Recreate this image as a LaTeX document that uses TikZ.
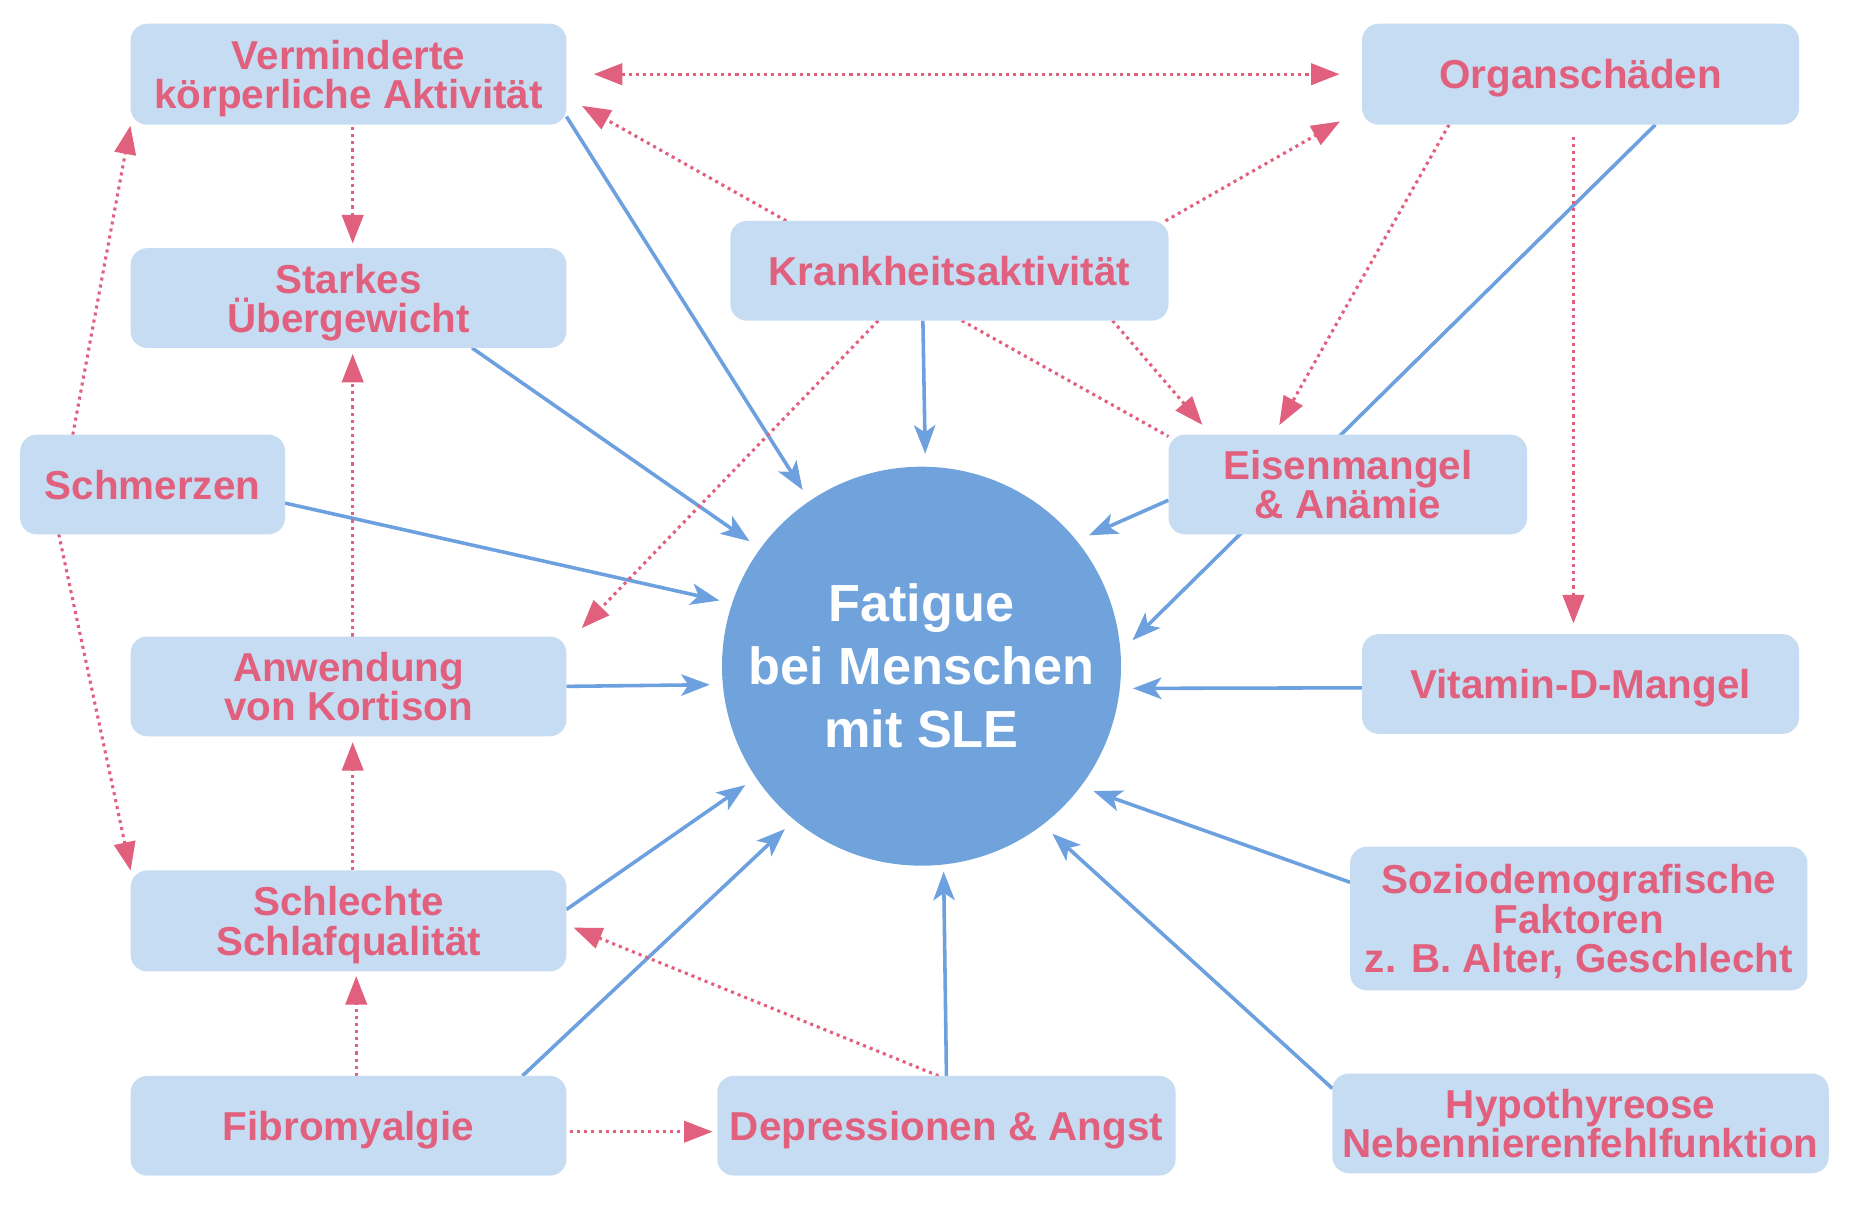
\documentclass[tikz,border=0pt]{standalone}
\usepackage{fontspec}
\setmainfont{Liberation Sans}
\usetikzlibrary{arrows.meta,backgrounds,calc}
\definecolor{pinkc}{RGB}{224,96,126}
\definecolor{boxc}{RGB}{198,220,242}
\definecolor{circc}{RGB}{112,163,220}
\definecolor{bluec}{RGB}{108,160,222}
\tikzset{
 boxnode/.style={rectangle, rounded corners=7pt, fill=boxc, text=pinkc,
   font=\bfseries\fontsize{17}{16.5}\selectfont, align=center, inner sep=2pt, outer sep=0pt, text depth=0pt},
 bluearrow/.style={draw=bluec, line width=1.5pt, -{Stealth[length=12pt,width=9pt,inset=3pt]}},
 pinkline/.style={draw=pinkc, line width=1.3pt, dash pattern=on 1.3pt off 1.7pt},
 pinkarrow/.style={pinkline, -{Triangle[length=12pt,width=9pt]}},
 pinkboth/.style={pinkline, {Triangle[length=12pt,width=9pt]}-{Triangle[length=12pt,width=9pt]}},
}
\begin{document}
\begin{tikzpicture}[x=0.5pt,y=-0.5pt]
\useasboundingbox (0,0) rectangle (1568,1037);
\node[boxnode, minimum width=183.5pt, minimum height=42.5pt] (verm) at (293.5,62.5) {Verminderte\\körperliche Aktivität};
\node[boxnode, minimum width=184pt, minimum height=42.5pt] (organ) at (1331,62.5) {Organschäden};
\node[boxnode, minimum width=183.5pt, minimum height=42pt] (stark) at (293.5,251) {Starkes\\Übergewicht};
\node[boxnode, minimum width=184.5pt, minimum height=42pt] (krank) at (799.5,228) {Krankheitsaktivität};
\node[boxnode, minimum width=111.5pt, minimum height=42pt] (schm) at (128.5,408) {Schmerzen};
\node[boxnode, minimum width=151pt, minimum height=42pt] (eisen) at (1135,408) {Eisenmangel\\\& Anämie};
\node[boxnode, minimum width=183.5pt, minimum height=42pt] (kort) at (293.5,578) {Anwendung\\von Kortison};
\node[boxnode, minimum width=184pt, minimum height=42pt] (vitd) at (1331,576) {Vitamin-D-Mangel};
\node[boxnode, minimum width=183.5pt, minimum height=42.5pt] (schlaf) at (293.5,775.5) {Schlechte\\Schlafqualität};
\node[boxnode, minimum width=192.5pt, minimum height=60.5pt] (sozio) at (1329.5,773.5) {Soziodemografische\\Faktoren\\z. B. Alter, Geschlecht};
\node[boxnode, minimum width=183.5pt, minimum height=42pt] (fibro) at (293.5,948) {Fibromyalgie};
\node[boxnode, minimum width=193pt, minimum height=42pt] (depr) at (797,948) {Depressionen \& Angst};
\node[boxnode, minimum width=209pt, minimum height=42pt] (hypo) at (1331,946) {Hypothyreose\\Nebennierenfehlfunktion};
\node[circle, fill=circc, minimum size=168pt, inner sep=0pt, outer sep=5.5pt, text=white,
  font=\bfseries\fontsize{22}{26.5}\selectfont, align=center] (fat) at (776,561) {Fatigue\\bei Menschen\\mit SLE};
\begin{scope}[on background layer]
\draw[bluearrow] (verm.-11.2) -- (fat.124.4);
\draw[bluearrow] (stark.-22.9) -- (fat.144);
\draw[bluearrow] (schm.-8.2) -- (fat.162.9);
\draw[bluearrow] (kort.-0.9) -- (fat.185.5);
\draw[bluearrow] (schlaf.3.6) -- (fat.214.7);
\draw[bluearrow] (fibro.16.4) -- (fat.230.8);
\draw[bluearrow, shorten >=-2.5pt] (depr.north) -- (fat.276.6);
\draw[bluearrow] (hypo.172.4) -- (fat.-52.5);
\draw[bluearrow] (sozio.171) -- (fat.-36.2);
\draw[bluearrow] (vitd.181.6) -- (fat.-6.4);
\draw[bluearrow] (organ.-34.9) -- (fat.7.1);
\draw[bluearrow] (eisen.185.7) -- (fat.38.3);
\draw[bluearrow] (krank.242.9) -- (fat.89.3);
\draw[pinkboth, shorten <=11.5pt, shorten >=9.5pt] (verm.east) -- (organ.west);
\draw[pinkarrow, shorten >=7.5pt] (krank.163.8) -- (verm.-6.8);
\draw[pinkarrow, shorten >=10.7pt] (krank.13.5) -- (organ.189.4);
\draw[pinkarrow, shorten >=5.4pt] (krank.-17.2) -- (eisen.160.1);
\draw[pinkarrow, shorten >=4.6pt] (organ.201.3) -- (eisen.146.3);
\draw[pinkline] (krank.-76) -- (eisen.165.7);
\draw[pinkarrow, shorten >=9.3pt] (krank.215.2) -- (kort.11.6);
\draw[pinkarrow, shorten <=1pt, shorten >=2pt] ([xshift=1.75pt]verm.south) -- ([xshift=1.75pt]stark.north);
\draw[pinkarrow, shorten >=2.5pt] ([xshift=1.75pt]kort.north) -- ([xshift=1.75pt]stark.south);
\draw[pinkarrow, shorten >=2.5pt] ([xshift=1.75pt]schlaf.north) -- ([xshift=1.75pt]kort.south);
\draw[pinkarrow, shorten >=2pt] ([xshift=3.25pt]fibro.north) -- ([xshift=3.25pt]schlaf.south);
\draw[pinkarrow, shorten <=1.5pt, shorten >=2pt] ([yshift=-2.5pt]fibro.east) -- ([yshift=-2.5pt]depr.west);
\draw[pinkarrow, shorten >=3.2pt] (depr.99.5) -- (schlaf.-1.6);
\draw[pinkarrow, shorten <=5pt, shorten >=4.5pt] ([xshift=-3pt]organ.south) -- ([xshift=-3pt]vitd.north);
\draw[pinkarrow, shorten >=0.5pt] (schm.148.5) -- (verm.193.65);
\draw[pinkarrow] (schm.208.1) -- (schlaf.167.7);
\end{scope}
\end{tikzpicture}
\end{document}
